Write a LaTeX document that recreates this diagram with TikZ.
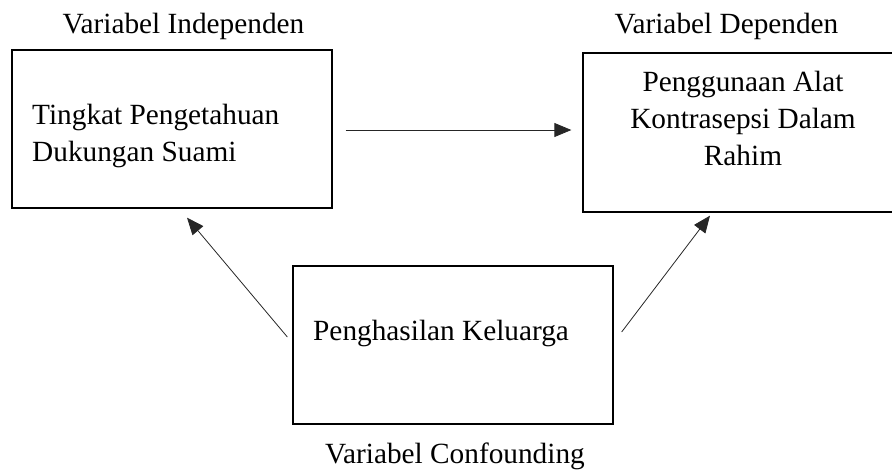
\documentclass[tikz,border=0pt]{standalone}
\usepackage{fontspec}
\setmainfont{Liberation Serif}
\usetikzlibrary{arrows.meta}

\begin{document}
\begin{tikzpicture}[x=1pt, y=-1pt,
    every node/.style={font=\fontsize{29.3}{36.8}\selectfont, inner sep=0pt},
    varbox/.style={rectangle, draw, line width=1.3pt, minimum width=320pt, minimum height=158pt},
    link/.style={-{Triangle[length=17pt, width=14pt]}, line width=0.8pt, black!85}]

    \useasboundingbox (0,0) rectangle (892,472);
    \clip (0,0) rectangle (892,472);

    %% independent variable
    \node[varbox] (indep) at (172,129) {};
    \node[anchor=base west, align=left] (indeptext) at (32,161) {Tingkat Pengetahuan\\Dukungan Suami};
    \node[anchor=base] (indeplabel) at (183.5,33) {Variabel Independen};

    %% dependent variable
    \node[varbox, minimum height=159pt] (dep) at (743,132.5) {};
    \node[anchor=base, align=center] (deptext) at (743,165) {Penggunaan Alat\\Kontrasepsi Dalam\\Rahim};
    \node[anchor=base] (deplabel) at (726.5,33) {Variabel Dependen};

    %% confounding variable
    \node[varbox] (conf) at (453,345) {};
    \node[anchor=base west] (conftext) at (313,340) {Penghasilan Keluarga};
    \node[anchor=base] (conflabel) at (455,463) {Variabel Confounding};

    \draw[link, shorten <=13pt, shorten >=11pt] ([yshift=-1pt]indep.east) -- ([yshift=-1pt]indep.east -| dep.west);
    \draw[link] ([xshift=-5pt, yshift=8pt]conf.west) -- ([xshift=15pt, yshift=-9pt]indep.south);
    \draw[link] ([xshift=8pt, yshift=13pt]conf.east) -- ([xshift=-33pt, yshift=-3pt]dep.south);

\end{tikzpicture}
\end{document}
